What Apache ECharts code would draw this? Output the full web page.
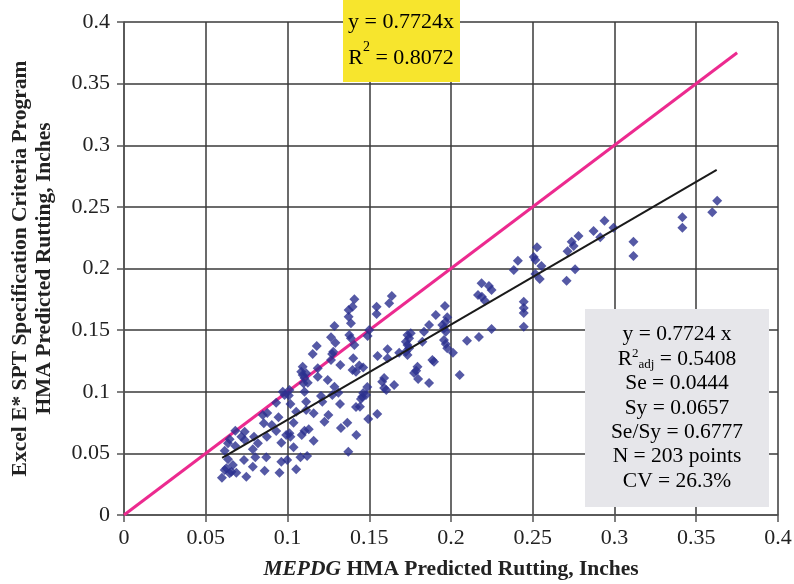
<!DOCTYPE html>
<html>
<head>
<meta charset="utf-8">
<script src="https://cdn.jsdelivr.net/npm/echarts@6/dist/echarts.min.js"></script>
<style>
  html, body { margin: 0; padding: 0; background: #ffffff; }
  #chart { width: 794px; height: 584px; }
</style>
</head>
<body>
<div id="chart"></div>
<script>
// MEPDG predicted rutting (x) vs Excel E* SPT criteria program predicted rutting (y), inches
const mepdgRut = [
  0.0599, 0.0616, 0.0626, 0.0616, 0.0636, 0.0636, 0.0646, 0.0646, 0.0657, 0.0666,
  0.0681, 0.0681, 0.0687, 0.0718, 0.0734, 0.0738, 0.0738, 0.0748, 0.0788, 0.0788,
  0.0795, 0.0803, 0.0849, 0.0876, 0.0855, 0.0860, 0.0870, 0.0874, 0.0904, 0.0931,
  0.0931, 0.0945, 0.0951, 0.0962, 0.0962, 0.0992, 0.0998, 0.1012, 0.1018, 0.1018,
  0.1037, 0.1037, 0.1053, 0.1053, 0.0971, 0.0982, 0.1012, 0.1008, 0.1079, 0.1087,
  0.1104, 0.1114, 0.1120, 0.1130, 0.1160, 0.1160, 0.1372, 0.1114, 0.1250, 0.1226,
  0.1327, 0.1366, 0.1421, 0.1205, 0.1213, 0.1287, 0.1274, 0.1311, 0.1321, 0.1419,
  0.1443, 0.1093, 0.1084, 0.1093, 0.1114, 0.1104, 0.1098, 0.1124, 0.1104, 0.1185,
  0.1185, 0.1246, 0.1323, 0.1398, 0.1419, 0.1402, 0.1266, 0.1378, 0.1388, 0.1179,
  0.1154, 0.1280, 0.1273, 0.1266, 0.1287, 0.1293, 0.1409, 0.1439, 0.1463, 0.1409,
  0.1398, 0.1374, 0.1374, 0.1388, 0.1545, 0.1545, 0.1638, 0.1622, 0.1500, 0.1490,
  0.1551, 0.1612, 0.1612, 0.1734, 0.1754, 0.1744, 0.1724, 0.1734, 0.1744, 0.1724,
  0.1734, 0.1683, 0.1835, 0.1866, 0.1907, 0.1963, 0.1977, 0.1968, 0.1947, 0.1957,
  0.1968, 0.1957, 0.1968, 0.1977, 0.2012, 0.1825, 0.1886, 0.1896, 0.1795, 0.1787,
  0.1774, 0.1799, 0.1866, 0.2053, 0.1652, 0.1591, 0.1579, 0.1591, 0.1604, 0.1488,
  0.1480, 0.1463, 0.1457, 0.1449, 0.1494, 0.1549, 0.2098, 0.2171, 0.2187, 0.2232,
  0.2248, 0.2165, 0.2189, 0.2207, 0.2445, 0.2445, 0.2445, 0.2445, 0.2248, 0.2526,
  0.2506, 0.2516, 0.2409, 0.2384, 0.2553, 0.2516, 0.2543, 0.2738, 0.2750, 0.2713,
  0.2759, 0.2707, 0.2780, 0.2872, 0.2913, 0.2939, 0.2994, 0.3116, 0.3116, 0.3415,
  0.3415, 0.3598, 0.3628, 0.0819
];
const spcRut = [
  0.0303, 0.0365, 0.0379, 0.0522, 0.0582, 0.0452, 0.0614, 0.0338, 0.0351, 0.0406,
  0.0684, 0.0560, 0.0343, 0.0635, 0.0446, 0.0676, 0.0609, 0.0311, 0.0533, 0.0392,
  0.0635, 0.0468, 0.0811, 0.0828, 0.0744, 0.0359, 0.0468, 0.0635, 0.0730, 0.0911,
  0.0682, 0.0793, 0.0343, 0.0587, 0.0432, 0.0649, 0.0446, 0.0663, 0.0635, 0.0901,
  0.0749, 0.0549, 0.0838, 0.0371, 0.1000, 0.0974, 0.1014, 0.0970, 0.0468, 0.0649,
  0.0684, 0.0852, 0.0479, 0.0695, 0.0825, 0.0603, 0.0514, 0.0919, 0.0811, 0.0757,
  0.0706, 0.0749, 0.0649, 0.0966, 0.0919, 0.1041, 0.0974, 0.0992, 0.0901, 0.0876,
  0.0879, 0.1203, 0.1163, 0.1136, 0.1150, 0.1112, 0.1069, 0.1073, 0.1000, 0.1190,
  0.1122, 0.1095, 0.1217, 0.1176, 0.1163, 0.1271, 0.1442, 0.1460, 0.1434, 0.1371,
  0.1306, 0.1325, 0.1306, 0.1258, 0.1533, 0.1398, 0.1379, 0.1213, 0.1197, 0.1750,
  0.1690, 0.1663, 0.1609, 0.1555, 0.1690, 0.1631, 0.1777, 0.1718, 0.1501, 0.1452,
  0.1290, 0.1344, 0.1271, 0.1460, 0.1474, 0.1434, 0.1406, 0.1379, 0.1353, 0.1325,
  0.1298, 0.1317, 0.1487, 0.1542, 0.1623, 0.1696, 0.1604, 0.1568, 0.1542, 0.1515,
  0.1487, 0.1420, 0.1387, 0.1353, 0.1317, 0.1406, 0.1258, 0.1244, 0.1203, 0.1171,
  0.1152, 0.1103, 0.1071, 0.1136, 0.1055, 0.1112, 0.1082, 0.1030, 0.1014, 0.1039,
  0.0974, 0.0990, 0.0960, 0.0941, 0.0779, 0.0819, 0.1414, 0.1444, 0.1880, 0.1858,
  0.1826, 0.1785, 0.1771, 0.1739, 0.1731, 0.1680, 0.1639, 0.1528, 0.1509, 0.2172,
  0.2093, 0.2069, 0.2063, 0.1988, 0.2020, 0.1955, 0.1915, 0.2217, 0.2183, 0.2140,
  0.1994, 0.1901, 0.2264, 0.2304, 0.2253, 0.2388, 0.2331, 0.2217, 0.2101, 0.2415,
  0.2331, 0.2456, 0.2550, 0.0582
];

// Line of equality and fitted line through the origin
const equalityX = [0, 0.375];
const fitSlope = 0.7724;
const fitX = [0.06, 0.3625];

// Statistics of the fit
const fitStats = [
  '{t|y = 0.7724 x}',
  '{t|R}{sup|2}{sub|adj}{t| = 0.5408}',
  '{t|Se = 0.0444}',
  '{t|Sy = 0.0657}',
  '{t|Se/Sy = 0.6777}',
  '{t|N = 203 points}',
  '{t|CV = 26.3%}'
];
const excelTrend = ['{t|y = 0.7724x}', '{t|R}{sup|2}{t| = 0.8072}'];

const FONT = '"Liberation Serif", "Times New Roman", serif';
const INK = '#222222';
const points = mepdgRut.map((x, i) => [x, spcRut[i]]);

const chart = echarts.init(document.getElementById('chart'), null, { renderer: 'canvas' });

const axisCommon = {
  type: 'value',
  min: 0,
  max: 0.4,
  interval: 0.05,
  axisLine: { show: true, onZero: false, lineStyle: { color: '#555555', width: 1.5 } },
  axisTick: { show: true, inside: false, length: 7, lineStyle: { color: '#555555', width: 1.5 } },
  splitLine: { show: true, lineStyle: { color: '#3a3a3a', width: 1.5 } },
  axisLabel: {
    fontFamily: FONT, fontSize: 22, color: INK,
    formatter: v => String(parseFloat(v.toFixed(2)))
  },
  nameLocation: 'middle'
};

function richStyles(size, lh) {
  return {
    t: { fontFamily: FONT, fontSize: size, color: INK, lineHeight: lh },
    sup: { fontFamily: FONT, fontSize: Math.round(size * 0.62), color: INK, verticalAlign: 'top', lineHeight: lh, padding: [0, 0, 9, 0] },
    sub: { fontFamily: FONT, fontSize: Math.round(size * 0.62), color: INK, verticalAlign: 'bottom', lineHeight: lh, padding: [7, 0, 0, 0] }
  };
}

chart.setOption({
  animation: false,
  backgroundColor: '#ffffff',
  grid: { left: 124, right: 16, top: 22, bottom: 69, containLabel: false, outerBoundsMode: 'none' },
  xAxis: Object.assign({}, axisCommon, {
    name: '{i|MEPDG}{b| HMA Predicted Rutting, Inches}',
    nameGap: 43,
    nameTextStyle: {
      rich: {
        i: { fontFamily: FONT, fontSize: 21.5, fontWeight: 'bold', fontStyle: 'italic', color: INK },
        b: { fontFamily: FONT, fontSize: 21.5, fontWeight: 'bold', color: INK }
      }
    },
    axisLabel: Object.assign({}, axisCommon.axisLabel, { margin: 12 })
  }),
  yAxis: Object.assign({}, axisCommon, {
    name: 'Excel E* SPT Specification Criteria Program\nHMA Predicted Rutting, Inches',
    nameGap: 68,
    nameTextStyle: { fontFamily: FONT, fontSize: 21.5, fontWeight: 'bold', color: INK, lineHeight: 24 },
    axisLabel: Object.assign({}, axisCommon.axisLabel, { margin: 14 })
  }),
  series: [
    {
      name: 'Equality',
      type: 'line',
      data: equalityX.map(x => [x, x]),
      symbol: 'none',
      lineStyle: { color: '#ec2a8f', width: 3 },
      z: 3
    },
    {
      name: 'Rutting',
      type: 'scatter',
      data: points,
      symbol: 'diamond',
      symbolSize: 10,
      itemStyle: { color: '#2a2f8e' },
      z: 4
    },
    {
      name: 'Fit',
      type: 'line',
      data: fitX.map(x => [x, fitSlope * x]),
      symbol: 'none',
      lineStyle: { color: '#1a1a1a', width: 2 },
      z: 5
    }
  ],
  graphic: [
    {
      type: 'rect', left: 343, top: 0, z: 10,
      shape: { width: 117, height: 82 },
      style: { fill: '#f7e52d' }
    },
    {
      type: 'text', x: 401, y: 40, z: 11,
      style: {
        text: excelTrend.join('\n'), rich: richStyles(22, 36),
        align: 'center', verticalAlign: 'middle'
      }
    },
    {
      type: 'rect', left: 585, top: 309, z: 10,
      shape: { width: 184, height: 198 },
      style: { fill: '#e6e6ea' }
    },
    {
      type: 'text', x: 677, y: 408, z: 11,
      style: {
        text: fitStats.join('\n'), rich: richStyles(21.5, 24.4),
        align: 'center', verticalAlign: 'middle'
      }
    }
  ]
});
</script>
</body>
</html>
